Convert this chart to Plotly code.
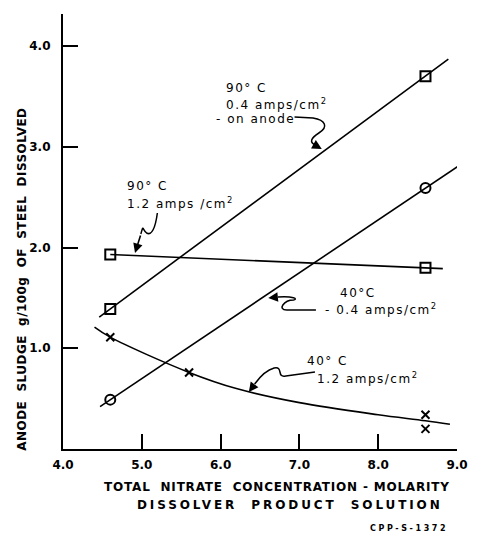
import plotly.graph_objects as go

# Nitrate concentration (molarity) at which samples were taken
conc_pts = [4.6, 8.6]

# 90 C, 0.4 amps/cm2 on anode (open squares)
s90_low_y = [1.39, 3.70]
s90_low_line_x = [4.46, 8.89]
s90_low_line_y = [1.31, 3.87]

# 90 C, 1.2 amps/cm2 (open squares)
s90_high_y = [1.93, 1.80]
s90_high_line_x = [4.6, 8.82]
s90_high_line_y = [1.93, 1.79]

# 40 C, 0.4 amps/cm2 (open circles)
s40_low_y = [0.49, 2.59]
s40_low_line_x = [4.47, 9.02]
s40_low_line_y = [0.42, 2.81]

# 40 C, 1.2 amps/cm2 (crosses) and its smooth curve
s40_high_x = [4.6, 5.6, 8.6, 8.6]
s40_high_y = [1.11, 0.76, 0.34, 0.20]
s40_curve_x = [4.40, 4.6, 5.6, 6.2, 7.0, 8.0, 8.6, 8.91]
s40_curve_y = [1.21, 1.11, 0.76, 0.60, 0.46, 0.34, 0.28, 0.245]

x_ticks = [4, 5, 6, 7, 8, 9]
x_tick_text = ["4.0", "5.0", "6.0", "7.0", "8.0", "9.0"]
y_ticks = [1, 2, 3, 4]
y_tick_text = ["1.0", "2.0", "3.0", "4.0"]

# plot frame in pixels
L, R, T, B = 63, 468, 14, 449
X_MIN, X_MAX = 4.0, 9.0
Y_MIN = 0.0
Y_PER_PX = 4.0 / (B - 46)
Y_MAX = (B - T) * Y_PER_PX
X_PER_PX = (X_MAX - X_MIN) / (R - L)


def dx(p):
    return X_MIN + (p - L) * X_PER_PX


def dy(p):
    return (B - p) * Y_PER_PX


def qx(p):
    return (p - L) / (R - L)


def qy(p):
    return (B - p) / (B - T)


def spaced(txt, ls):
    return f'<span style="letter-spacing:{ls}px">{txt}</span>'


LINE = dict(color="black", width=1.6)
FONT = "DejaVu Sans"

fig = go.Figure()

for lx, ly in [(s90_low_line_x, s90_low_line_y),
               (s90_high_line_x, s90_high_line_y),
               (s40_low_line_x, s40_low_line_y)]:
    fig.add_trace(go.Scatter(x=lx, y=ly, mode="lines", line=LINE,
                             showlegend=False, hoverinfo="skip"))

fig.add_trace(go.Scatter(x=s40_curve_x, y=s40_curve_y, mode="lines",
                         line=dict(color="black", width=1.6, shape="spline", smoothing=1.0),
                         showlegend=False, hoverinfo="skip"))

fig.add_trace(go.Scatter(x=conc_pts + conc_pts, y=s90_low_y + s90_high_y, mode="markers",
                         marker=dict(symbol="square-open", size=10, color="black",
                                     line=dict(width=2)),
                         showlegend=False))
fig.add_trace(go.Scatter(x=conc_pts, y=s40_low_y, mode="markers",
                         marker=dict(symbol="circle-open", size=10, color="black",
                                     line=dict(width=2)),
                         showlegend=False))
fig.add_trace(go.Scatter(x=s40_high_x, y=s40_high_y, mode="markers",
                         marker=dict(symbol="x-thin-open", size=8, color="black",
                                     line=dict(width=2)),
                         showlegend=False))

# curly leader lines from the labels to the curves (pixel paths)
leaders = [
    [("M", 301, 117), ("L", 320, 118), ("C", 333, 120, 336, 127, 326, 133),
     ("C", 318, 138, 316, 142, 322, 145)],
    [("M", 160, 213), ("C", 158, 228, 154, 236, 149, 233),
     ("C", 144, 229, 146, 224, 143, 234)],
    [("M", 323, 310), ("L", 293, 310), ("C", 283, 310, 290, 300, 300, 300),
     ("C", 305, 299, 300, 296, 284, 297)],
    [("M", 322, 372), ("L", 292, 376), ("C", 282, 378, 290, 366, 280, 368),
     ("C", 272, 370, 266, 376, 260, 384)],
]
for segs in leaders:
    parts = []
    for s in segs:
        cmd, pts = s[0], s[1:]
        coords = " ".join(f"{dx(pts[i]):.4f},{dy(pts[i + 1]):.4f}" for i in range(0, len(pts), 2))
        parts.append(f"{cmd} {coords}")
    fig.add_shape(type="path", path=" ".join(parts), xref="x", yref="y",
                  line=dict(color="black", width=1.5))

# arrowheads at the leader tips: (tip, tail)
heads = [((329, 149), (322, 145)), ((137, 253), (143, 234)),
         ((274, 298), (284, 297)), ((254, 392), (260, 384))]
for (tx, ty), (sx, sy) in heads:
    fig.add_annotation(x=dx(tx), y=dy(ty), xref="x", yref="y", text="",
                       showarrow=True, arrowhead=2, arrowsize=1.2, arrowwidth=1.6,
                       arrowcolor="black", ax=sx - tx, ay=sy - ty)

labels = [
    ("90° C", 228, 88),
    ("0.4 amps/cm<sup>2</sup>", 228, 104),
    ("- on anode", 218, 119),
    ("90° C", 127, 186),
    ("1.2 amps /cm<sup>2</sup>", 127, 203),
    ("40°C", 346, 293),
    ("- 0.4 amps/cm<sup>2</sup>", 330, 309),
    ("40° C", 312, 361),
    ("1.2 amps/cm<sup>2</sup>", 322, 378),
]
for txt, x, y in labels:
    fig.add_annotation(x=qx(x), y=qy(y), xref="paper", yref="paper",
                       text=spaced(txt, 1.5),
                       showarrow=False, xanchor="left", yanchor="middle",
                       font=dict(family=FONT, size=12, color="black"))

fig.add_annotation(x=qx(20), y=qy(453), xref="paper", yref="paper",
                   text=spaced("<b>ANODE  SLUDGE  g/100g  OF  STEEL  DISSOLVED</b>", 0.45),
                   textangle=-90, showarrow=False, xanchor="center", yanchor="bottom",
                   font=dict(family=FONT, size=12, color="black"))
fig.add_annotation(x=qx(103), y=qy(487), xref="paper", yref="paper",
                   text=spaced("<b>TOTAL  NITRATE  CONCENTRATION - MOLARITY</b>", 0.8),
                   showarrow=False, xanchor="left", yanchor="middle",
                   font=dict(family=FONT, size=12, color="black"))
fig.add_annotation(x=qx(137), y=qy(505), xref="paper", yref="paper",
                   text=spaced("<b>DISSOLVER  PRODUCT  SOLUTION</b>", 2.9),
                   showarrow=False, xanchor="left", yanchor="middle",
                   font=dict(family=FONT, size=12, color="black"))
fig.add_annotation(x=qx(377), y=qy(528), xref="paper", yref="paper",
                   text=spaced("<b>CPP-S-1372</b>", 2.6),
                   showarrow=False, xanchor="left", yanchor="middle",
                   font=dict(family=FONT, size=8, color="black"))

axis_common = dict(showgrid=False, zeroline=False, showline=True, linecolor="black",
                   linewidth=2.2, ticks="inside", ticklen=15, tickwidth=2,
                   tickcolor="black", mirror=False,
                   tickfont=dict(family=FONT, size=12, color="black"))

fig.update_xaxes(range=[X_MIN, X_MAX], tickvals=x_ticks,
                 ticktext=[f"<b>{t}</b>" for t in x_tick_text],
                 ticklabelstandoff=3, **axis_common)
fig.update_yaxes(range=[Y_MIN, Y_MAX], tickvals=y_ticks,
                 ticktext=[f"<b>{t}</b>" for t in y_tick_text],
                 ticklabelstandoff=8, **axis_common)

fig.update_layout(width=480, height=533,
                  margin=dict(l=L, r=480 - R, t=T, b=533 - B),
                  paper_bgcolor="white", plot_bgcolor="white")

fig.write_html("out.html")
